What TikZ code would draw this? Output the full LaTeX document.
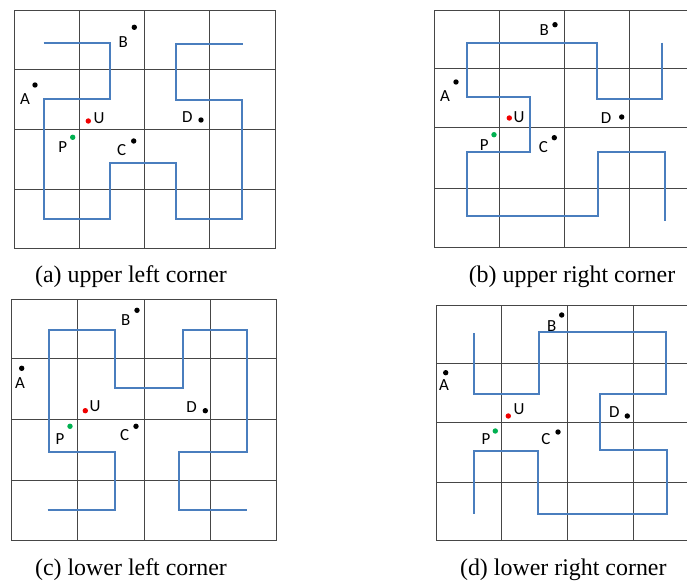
\documentclass[tikz,border=0pt]{standalone}
\usepackage{fontspec}
\setmainfont{Liberation Serif}
\newfontfamily\lblfont{Carlito}
\definecolor{curveblue}{RGB}{74,126,190}
\definecolor{gridgray}{RGB}{70,70,70}
\definecolor{dotgreen}{RGB}{0,176,80}
\definecolor{dotred}{RGB}{240,0,0}
\begin{document}
\begin{tikzpicture}[x=1bp,y=-1bp,
  gridline/.style={draw=gridgray, line width=1bp},
  hcurve/.style={draw=curveblue, line width=1.8bp, line join=miter},
  dotb/.style={circle, fill=black, inner sep=0pt, minimum size=5.4bp},
  dotr/.style={dotb, fill=dotred},
  dotg/.style={dotb, fill=dotgreen},
  lbl/.style={inner sep=0pt, font=\lblfont\fontsize{17}{18}\selectfont},
  captext/.style={anchor=base, inner sep=0pt, font=\fontsize{24}{28}\selectfont}]
\useasboundingbox (0,0) rectangle (687,581);
\clip (0,0) rectangle (687,581);
\fill[white] (0,0) rectangle (687,581);

% ---------- panel (a)
\draw[gridline] (14,10.7) rectangle (275,248.3);
\foreach \xx in {79.3,144.3,209.7} \draw[gridline] (\xx,10.7) -- (\xx,248.3);
\foreach \yy in {69.7,129.3,189.7} \draw[gridline] (14,\yy) -- (275,\yy);
\draw[hcurve] (43.7,42.7) -- (110,42.7) -- (110,98.7) -- (43.7,98.7) -- (43.7,218.7)
  -- (110,218.7) -- (110,163) -- (175.7,163) -- (175.7,218.7) -- (242.3,218.7)
  -- (242.3,100) -- (176.3,100) -- (176.3,44.3) -- (243.3,44.3);
\node[dotb] (aA) at (35,85) {};   \node[lbl] (aAl) at (25,99) {A};
\node[dotb] (aB) at (134.3,27.3) {}; \node[lbl] (aBl) at (123.3,41.7) {B};
\node[dotr] (aU) at (88.3,121) {}; \node[lbl] (aUl) at (99,117.7) {U};
\node[dotg] (aP) at (72.7,137.3) {}; \node[lbl] (aPl) at (62.7,146.7) {P};
\node[dotb] (aC) at (133.7,141) {}; \node[lbl] (aCl) at (121.7,150) {C};
\node[dotb] (aD) at (201,120) {}; \node[lbl] (aDl) at (187.3,116.7) {D};
\node[captext] (capa) at (131,282) {(a) upper left corner};

% ---------- panel (b)
\draw[gridline] (434,10.3) rectangle (695,247.3);
\foreach \xx in {499.3,564.3,629.7} \draw[gridline] (\xx,10.3) -- (\xx,247.3);
\foreach \yy in {68.3,127.7,188.3} \draw[gridline] (434,\yy) -- (695,\yy);
\draw[hcurve] (662.3,42.7) -- (662.3,99) -- (596.7,99) -- (596.7,42.7) -- (466.7,42.7)
  -- (466.7,97.3) -- (530,97.3) -- (530,152) -- (466.7,152) -- (466.7,216.3)
  -- (598.3,216.3) -- (598.3,152) -- (665.3,152) -- (665.3,221.3);
\node[dotb] (bA) at (456,82) {};   \node[lbl] (bAl) at (445,96.3) {A};
\node[dotb] (bB) at (555,24.7) {}; \node[lbl] (bBl) at (544.3,30) {B};
\node[dotr] (bU) at (509.3,118) {}; \node[lbl] (bUl) at (519,116.7) {U};
\node[dotg] (bP) at (494,134.7) {}; \node[lbl] (bPl) at (484.3,145) {P};
\node[dotb] (bC) at (554.3,137.7) {}; \node[lbl] (bCl) at (543.3,146.7) {C};
\node[dotb] (bD) at (621.7,117) {}; \node[lbl] (bDl) at (606,117.7) {D};
\node[captext] (capb) at (572,282) {(b) upper right corner};

% ---------- panel (c)
\draw[gridline] (11.3,299.3) rectangle (276.7,540.5);
\foreach \xx in {77.3,144.3,210.3} \draw[gridline] (\xx,299.3) -- (\xx,540.5);
\foreach \yy in {358.3,419.3,480.3} \draw[gridline] (11.3,\yy) -- (276.7,\yy);
\draw[hcurve] (47.7,510.3) -- (115,510.3) -- (115,451.7) -- (49.3,451.7) -- (49.3,329.7)
  -- (115,329.7) -- (115,388.3) -- (182.7,388.3) -- (182.7,329.7) -- (246.7,329.7)
  -- (246.7,451.7) -- (179.3,451.7) -- (179.3,510.3) -- (246.7,510.3);
\node[dotb] (cA) at (21.7,368.3) {}; \node[lbl] (cAl) at (20,383.3) {A};
\node[dotb] (cB) at (137,310.3) {}; \node[lbl] (cBl) at (125.7,320) {B};
\node[dotr] (cU) at (85.3,410.7) {}; \node[lbl] (cUl) at (95,405.7) {U};
\node[dotg] (cP) at (70,426.3) {}; \node[lbl] (cPl) at (60,439) {P};
\node[dotb] (cC) at (136,426.3) {}; \node[lbl] (cCl) at (124.7,435.3) {C};
\node[dotb] (cD) at (205.3,410.7) {}; \node[lbl] (cDl) at (191.7,406.7) {D};
\node[captext] (capc) at (131,575) {(c) lower left corner};

% ---------- panel (d)
\draw[gridline] (436.3,305.7) rectangle (699,540.7);
\foreach \xx in {501.5,567.5,633.3} \draw[gridline] (\xx,305.7) -- (\xx,540.7);
\foreach \yy in {363.7,422.3,482.3} \draw[gridline] (436.3,\yy) -- (699,\yy);
\draw[hcurve] (473.7,333.3) -- (473.7,394.3) -- (539.3,394.3) -- (539.3,332.3) -- (665.7,332.3)
  -- (665.7,393.7) -- (599.7,393.7) -- (599.7,450.3) -- (666.7,450.3) -- (666.7,513.7)
  -- (538.3,513.7) -- (538.3,450.7) -- (473.7,450.7) -- (473.7,513.7);
\node[dotb] (dA) at (445.7,372.7) {}; \node[lbl] (dAl) at (444,385) {A};
\node[dotb] (dB) at (561.7,315) {}; \node[lbl] (dBl) at (551.7,326) {B};
\node[dotr] (dU) at (508.3,416) {}; \node[lbl] (dUl) at (519,409) {U};
\node[dotg] (dP) at (495.3,431) {}; \node[lbl] (dPl) at (486,439) {P};
\node[dotb] (dC) at (558,432) {}; \node[lbl] (dCl) at (546,439.3) {C};
\node[dotb] (dD) at (627.3,416) {}; \node[lbl] (dDl) at (614.3,411.7) {D};
\node[captext] (capd) at (563.3,575) {(d) lower right corner};
\end{tikzpicture}
\end{document}
